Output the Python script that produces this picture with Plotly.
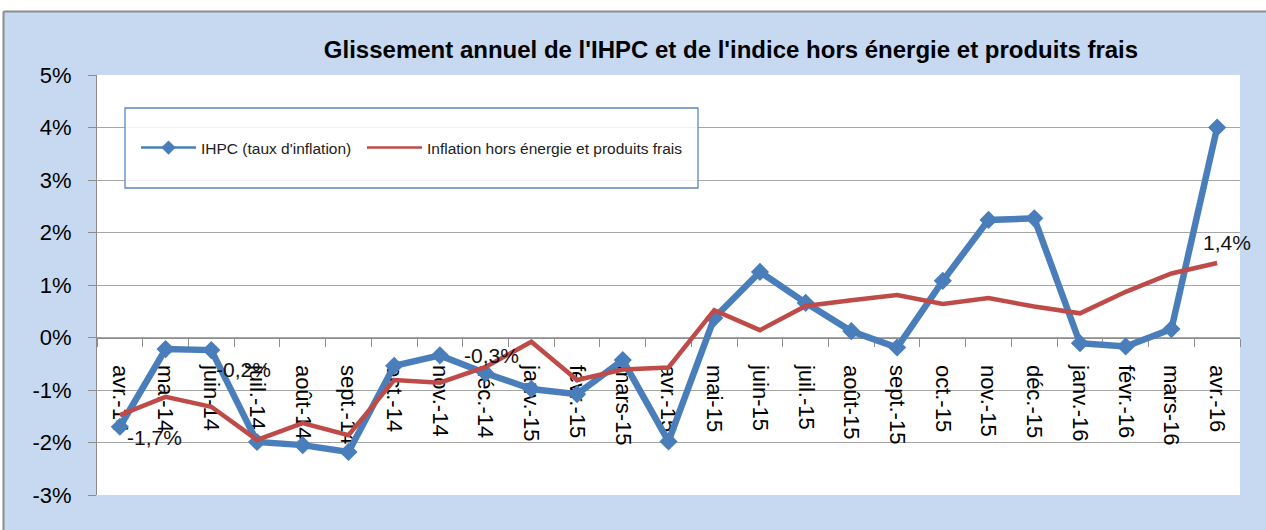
import plotly.graph_objects as go

months = ['avr.-14', 'mai-14', 'juin-14', 'juil.-14', 'août-14', 'sept.-14', 'oct.-14',
          'nov.-14', 'déc.-14', 'janv.-15', 'févr.-15', 'mars-15', 'avr.-15', 'mai-15',
          'juin-15', 'juil.-15', 'août-15', 'sept.-15', 'oct.-15', 'nov.-15', 'déc.-15',
          'janv.-16', 'févr.-16', 'mars-16', 'avr.-16']

ihpc = [-1.7, -0.22, -0.24, -1.99, -2.05, -2.18, -0.54, -0.34, -0.68, -0.98, -1.08, -0.43,
        -1.98, 0.37, 1.25, 0.66, 0.12, -0.19, 1.08, 2.24, 2.27, -0.11, -0.17, 0.16, 4.0]

core = [-1.48, -1.13, -1.32, -1.95, -1.63, -1.86, -0.81, -0.86, -0.56, -0.08, -0.81, -0.61,
        -0.57, 0.52, 0.14, 0.60, 0.71, 0.81, 0.64, 0.75, 0.59, 0.46, 0.87, 1.22, 1.42]

y_ticks = [-3, -2, -1, 0, 1, 2, 3, 4, 5]
y_ticktext = ['-3%', '-2%', '-1%', '0%', '1%', '2%', '3%', '4%', '5%']

name_ihpc = "IHPC (taux d'inflation)"
name_core = "Inflation hors énergie et produits frais"
title = "Glissement annuel de l'IHPC et de l'indice hors énergie et produits frais"

BLUE = '#4A7EBB'
RED = '#BE4B48'
FONT = 'Liberation Sans'

# geometry (pixels)
W, H = 1266, 530
L, R, T, B = 97, 26, 75, 35
PW, PH = W - L - R, H - T - B

def px(xp):
    return (xp - L) / PW

def py(yp):
    return (H - B - yp) / PH

def fmt(v):
    return f"{v:.1f}%".replace('.', ',')

fig = go.Figure()

fig.add_trace(go.Scatter(x=months, y=ihpc, mode='lines+markers', name=name_ihpc,
                         line=dict(color=BLUE, width=6.5),
                         marker=dict(symbol='diamond', size=14, color=BLUE),
                         showlegend=False))
fig.add_trace(go.Scatter(x=months, y=core, mode='lines', name=name_core,
                         line=dict(color=RED, width=4.5), showlegend=False))

# legend entries
fig.add_trace(go.Scatter(x=[None], y=[None], mode='lines+markers', name=name_ihpc,
                         line=dict(color=BLUE, width=2.5), legend='legend',
                         marker=dict(symbol='diamond', size=11, color=BLUE)))
fig.add_trace(go.Scatter(x=[None], y=[None], mode='lines', name=name_core,
                         line=dict(color=RED, width=2.5), legend='legend2'))

# data labels
labels = [
    (months[0], ihpc[0], 'left', 5, -11),
    (months[2], ihpc[2], 'left', 3, -19),
    (months[7], ihpc[7], 'left', 22, 0),
    (months[24], core[24], 'center', 10, 20),
]
for xm, v, xa, xs, ys in labels:
    fig.add_annotation(x=xm, y=v, text=fmt(v), showarrow=False, xanchor=xa,
                       yanchor='middle', xshift=xs, yshift=ys,
                       font=dict(family=FONT, size=21, color='#111111'))

shapes = [
    # white strip top & left, with gray border
    dict(type='rect', xref='paper', yref='paper', x0=px(-5), x1=px(W + 5), y0=py(11.5), y1=py(-5),
         fillcolor='white', line=dict(width=0), layer='above'),
    dict(type='rect', xref='paper', yref='paper', x0=px(-5), x1=px(3.5), y0=py(H + 5), y1=py(-5),
         fillcolor='white', line=dict(width=0), layer='above'),
    dict(type='line', xref='paper', yref='paper', x0=px(3.5), x1=px(W + 5), y0=py(11.5), y1=py(11.5),
         line=dict(color='#8C8C8C', width=2), layer='above'),
    dict(type='line', xref='paper', yref='paper', x0=px(3.5), x1=px(3.5), y0=py(11.5), y1=py(H + 5),
         line=dict(color='#8C8C8C', width=2), layer='above'),
    # legend box
    dict(type='rect', xref='paper', yref='paper', x0=px(125), x1=px(698), y0=py(188), y1=py(108),
         fillcolor='rgba(255,255,255,0.85)', line=dict(color='#5B87C5', width=1.3), layer='above'),
]

leg_common = dict(orientation='h', xanchor='left', y=py(148), yanchor='middle',
                  bgcolor='rgba(0,0,0,0)', borderwidth=0, itemwidth=55,
                  font=dict(family=FONT, size=15.5, color='#222222'))

fig.update_layout(
    width=W, height=H,
    margin=dict(l=L, r=R, t=T, b=B, autoexpand=False),
    paper_bgcolor='#C6D9F1',
    plot_bgcolor='white',
    font=dict(family=FONT, color='#000000'),
    title=dict(text=title, x=731 / W, xanchor='center', y=1 - 50 / H, yanchor='middle',
               font=dict(family=FONT, size=24, color='#000000', weight='bold')),
    shapes=shapes,
    showlegend=True,
    legend=dict(x=px(136), **leg_common),
    legend2=dict(x=px(362), **leg_common),
    xaxis=dict(type='category', categoryorder='array', categoryarray=months,
               range=[-0.5, len(months) - 0.5],
               anchor='free', position=py(337.5),
               showline=True, linecolor='#8C8C8C', linewidth=1,
               ticks='outside', ticklen=8, tickcolor='#8C8C8C', tickson='boundaries',
               tickangle=90, ticklabelstandoff=22, showgrid=False,
               layer='below traces',
               tickfont=dict(family=FONT, size=22, color='#000000')),
    yaxis=dict(range=[-3, 5], tickmode='array', tickvals=y_ticks, ticktext=y_ticktext,
               showline=True, linecolor='#8C8C8C', linewidth=1,
               ticks='outside', ticklen=8, tickcolor='#8C8C8C', ticklabelstandoff=12,
               showgrid=True, gridcolor='#A6A6A6', gridwidth=1, zeroline=False,
               tickfont=dict(family=FONT, size=22, color='#000000')),
)

fig.write_html('out.html', config={'displayModeBar': False},
               post_script="document.body.style.margin='0';document.body.style.padding='0';")
